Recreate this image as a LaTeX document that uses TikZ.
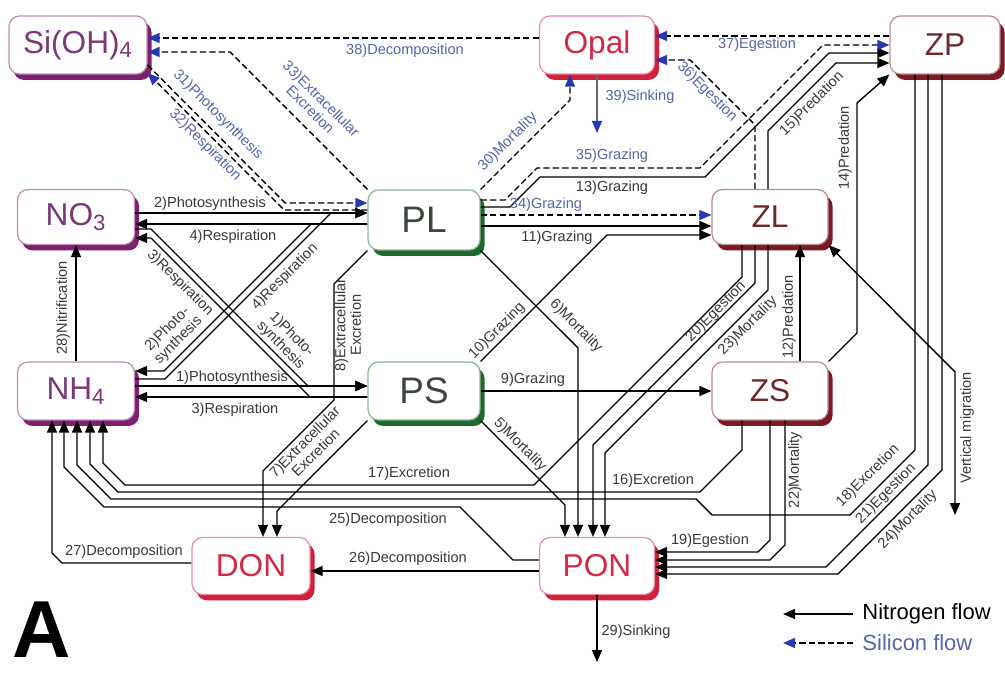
\documentclass[tikz,border=0pt]{standalone}
\usepackage{fontspec}
\setmainfont{Liberation Sans}
\usetikzlibrary{arrows.meta, shadows}
\definecolor{npurple}{HTML}{7A3A78}
\definecolor{spurple}{HTML}{7E1F70}
\definecolor{nred}{HTML}{D42A48}
\definecolor{sred}{HTML}{D0203C}
\definecolor{nbrown}{HTML}{6E2A2A}
\definecolor{sbrown}{HTML}{7A1A24}
\definecolor{ngrey}{HTML}{3C463C}
\definecolor{sgreen}{HTML}{1E6A2E}
\definecolor{siblue}{HTML}{2838B0}
\definecolor{silabel}{HTML}{5666AA}
\definecolor{nlabel}{HTML}{3A3A3A}
\tikzset{
  every picture/.style={line width=0.8pt},
  pool/.style 2 args={draw=#2!50, fill=white, text=#1, rounded corners=6pt, line width=0.7pt, inner sep=0pt,
    font=\fontsize{18}{18}\selectfont, general shadow={fill=#2, shadow xshift=2.6pt, shadow yshift=-3.4pt}},
  nflow/.style={draw=black, -{Triangle[length=2.4mm, width=2mm]}},
  siflow/.style={draw=black, dash pattern=on 3.6pt off 1.8pt, -{Triangle[length=2.4mm, width=2mm, color=siblue]}},
  lab/.style={font=\fontsize{8.3}{8.8}\selectfont, text=nlabel, inner sep=0.5pt, align=center},
  silab/.style={lab, text=silabel},
}

\begin{document}
\begin{tikzpicture}[x=0.02cm, y=-0.02cm,
  wide/.style={minimum width=2.34cm, minimum height=1.16cm},
  big/.style={font=\fontsize{21}{21}\selectfont},
  twoway/.style={draw=black, {Triangle[length=2.4mm, width=2mm]}-{Triangle[length=2.4mm, width=2mm]}},
  legend/.style={font=\fontsize{12.5}{13}\selectfont, anchor=west, inner sep=5pt}]
  \useasboundingbox (0,0) rectangle (1005,675);
  % pools
  \node[pool={npurple}{spurple}, minimum width=2.76cm, minimum height=1.16cm] (SiOH) at (78,45) {Si(OH)\textsubscript{4}};
  \node[pool={nred}{sred}, minimum width=2.3cm, minimum height=1.16cm] (Opal) at (597,45) {Opal};
  \node[pool={nbrown}{sbrown}, minimum width=2.2cm, minimum height=1.16cm] (ZP) at (945,45) {ZP};
  \node[pool={npurple}{spurple}, wide, minimum height=1.1cm] (NO3) at (76,217) {NO\textsubscript{3}};
  \node[pool={ngrey}{sgreen}, big, minimum width=2.24cm, minimum height=1.2cm] (PL) at (424,220) {PL};
  \node[pool={nbrown}{sbrown}, minimum width=2.32cm, minimum height=1.1cm] (ZL) at (770,217) {ZL};
  \node[pool={npurple}{spurple}, wide] (NH4) at (76,391) {NH\textsubscript{4}};
  \node[pool={ngrey}{sgreen}, big, minimum width=2.24cm, minimum height=1.16cm] (PS) at (424,391) {PS};
  \node[pool={nbrown}{sbrown}, minimum width=2.32cm, minimum height=1.16cm] (ZS) at (770,391) {ZS};
  \node[pool={nred}{sred}, minimum width=2.36cm, minimum height=1.14cm] (DON) at (251,566) {DON};
  \node[pool={nred}{sred}, minimum width=2.3cm, minimum height=1.14cm] (PON) at (597,566) {PON};

  % nutrient uptake and respiration
  \draw[nflow] (NH4.east |- 0,386) -- (PS.west |- 0,386);
  \draw[nflow] (PS.west |- 0,397) -- (NH4.east |- 0,397);
  \draw[nflow] (NO3.east |- 0,213) -- (PL.west |- 0,213);
  \draw[nflow] (PL.west |- 0,224) -- (NO3.east |- 0,224);
  \draw[nflow] (NO3.east |- 0,229) -- (151,229) -- (308,386) -- (PS.west |- 0,386);
  \draw[nflow] (PS.west |- 0,397) -- (310,397) -- (151,238) -- (NO3.east |- 0,238);
  \draw[nflow] (NH4.east |- 0,379) -- (165,379) -- (331,213) -- (PL.west |- 0,213);
  \draw[nflow] (PL.west |- 0,224) -- (311,224) -- (164,371) -- (NH4.east |- 0,371);
  \draw[nflow] (NH4.north) -- (NO3.south);
  % mortality and excretion of phytoplankton
  \draw[nflow] (PS.south east) -- (565,505) -- (PON.north -| 565,0);
  \draw[nflow] (PL.south east) -- (578,348) -- (PON.north -| 578,0);
  \draw[nflow] (PS.south west) -- (277,511) -- (DON.north -| 277,0);
  \draw[nflow] (PL.south west) -- (334,284) -- (334,400) -- (263,471) -- (DON.north -| 263,0);
  % grazing and predation
  \draw[nflow] (PS.east |- 0,391) -- (ZS.west |- 0,391);
  \draw[nflow] (PS.north east) -- (607,235) -- (ZL.west |- 0,235);
  \draw[nflow] (PL.east |- 0,226) -- (ZL.west |- 0,226);
  \draw[nflow] (ZS.north -| 800,0) -- (ZL.south -| 800,0);
  \draw[nflow] (PL.east |- 0,207) -- (510,207) -- (540,177) -- (705,177) -- (829,53) -- (ZP.west |- 0,53);
  \draw[nflow] (ZS.north east) -- (857,333) -- (857,103) -- (ZP.south west);
  \draw[nflow] (ZL.north -| 768,0) -- (768,131) -- (836,63) -- (ZP.west |- 0,63);
  % excretion to NH4
  \draw[nflow] (ZS.south -| 742,0) -- (742,450) -- (700,492) -- (118,492) -- (90,464) -- (NH4.south -| 90,0);
  \draw[nflow] (ZL.south -| 742,0) -- (742,277) -- (534,485) -- (125,485) -- (103,463) -- (NH4.south -| 103,0);
  \draw[nflow] (ZP.south -| 915,0) -- (915,450) -- (850,515) -- (712,515) -- (696,499) -- (111,499) -- (77,465) -- (NH4.south -| 77,0);
  \draw[nflow] (PON.west |- 0,560) -- (513,560) -- (460,507) -- (104,507) -- (64,467) -- (NH4.south -| 64,0);
  % egestion and mortality to PON
  \draw[nflow] (ZS.south -| 770,0) -- (770,540) -- (758,552) -- (PON.east |- 0,552);
  \draw[nflow] (ZS.south -| 785,0) -- (785,545) -- (770,560) -- (PON.east |- 0,560);
  \draw[nflow] (ZL.south -| 755,0) -- (755,283) -- (593,445) -- (PON.north -| 593,0);
  \draw[nflow] (ZL.south -| 768,0) -- (768,290) -- (605,453) -- (PON.north -| 605,0);
  \draw[nflow] (ZP.south -| 928,0) -- (928,465) -- (826,567) -- (PON.east |- 0,567);
  \draw[nflow] (ZP.south -| 942,0) -- (942,470) -- (838,574) -- (PON.east |- 0,574);
  % decomposition and sinking
  \draw[nflow] (DON.west |- 0,563) -- (62,563) -- (52,553) -- (NH4.south -| 52,0);
  \draw[nflow] (PON.west |- 0,571) -- (DON.east |- 0,571);
  \coordinate (ponsink) at (597,662);
  \draw[nflow] (PON.south) -- (ponsink);
  \coordinate (vmend) at (955,515);
  \draw[twoway] (ZL.south east) -- (955,372) -- (vmend);

  % silicon
  \draw[siflow] (SiOH.east |- 0,65) -- (285,203) -- (PL.west |- 0,203);
  \draw[siflow] (PL.west |- 0,210) -- (284,210) -- (SiOH.east |- 0,73);
  \draw[siflow] (PL.north west) -- (230,52) -- (SiOH.east |- 0,52);
  \draw[siflow] (PL.north east) -- (570,100) -- (Opal.south -| 570,0);
  \draw[siflow] (PL.east |- 0,215) -- (ZL.west |- 0,215);
  \draw[siflow] (PL.east |- 0,200) -- (505,200) -- (537,168) -- (700,168) -- (823,45) -- (ZP.west |- 0,45);
  \draw[siflow] (ZL.north -| 755,0) -- (755,125) -- (690,60) -- (Opal.east |- 0,60);
  \draw[siflow] (ZP.west |- 0,36) -- (Opal.east |- 0,36);
  \draw[siflow] (Opal.west |- 0,38) -- (SiOH.east |- 0,38);
  \coordinate (opalsink) at (597,133);
  \draw[draw=black!60, -{Triangle[length=2.4mm, width=2mm, color=siblue]}] (Opal.south) -- (opalsink);

  % flow labels
  \node[lab] (t1) at (232,378) {1)Photosynthesis};
  \node[lab] (t3) at (235,410) {3)Respiration};
  \node[lab] (t2) at (210,204) {2)Photosynthesis};
  \node[lab] (t4) at (233,237) {4)Respiration};
  \node[lab, rotate=-45] (t3b) at (180,283) {3)Respiration};
  \node[lab, rotate=45] (t4b) at (285,277) {4)Respiration};
  \node[lab, rotate=45] (t2b) at (173,335) {2)Photo-\\synthesis};
  \node[lab, rotate=-45] (t1b) at (286,340) {1)Photo-\\synthesis};
  \node[lab, rotate=90] (t28) at (63,308) {28)Nitrification};
  \node[lab, rotate=-45] (t5) at (520,445) {5)Mortality};
  \node[lab, rotate=-45] (t6) at (576,326) {6)Mortality};
  \node[lab, rotate=45] (t7) at (310,447) {7)Extracellular\\Excretion};
  \node[lab, rotate=90] (t8) at (348,325) {8)Extracellular\\Excretion};
  \node[lab] (t9) at (533,380) {9)Grazing};
  \node[lab, rotate=45] (t10) at (497,331) {10)Grazing};
  \node[lab] (t11) at (557,238) {11)Grazing};
  \node[lab, rotate=90] (t12) at (789,317) {12)Predation};
  \node[lab] (t13) at (612,188) {13)Grazing};
  \node[lab, rotate=90] (t14) at (845,148) {14)Predation};
  \node[lab, rotate=45] (t15) at (812,104) {15)Predation};
  \node[lab] (t16) at (653,481) {16)Excretion};
  \node[lab] (t17) at (409,474) {17)Excretion};
  \node[lab, rotate=45] (t18) at (868,476) {18)Excretion};
  \node[lab] (t19) at (710,541) {19)Egestion};
  \node[lab, rotate=45] (t20) at (716,312) {20)Egestion};
  \node[lab, rotate=45] (t21) at (886,494) {21)Egestion};
  \node[lab, rotate=90] (t22) at (795,470) {22)Mortality};
  \node[lab, rotate=45] (t23) at (748,326) {23)Mortality};
  \node[lab, rotate=45] (t24) at (908,520) {24)Mortality};
  \node[lab] (t25) at (388,520) {25)Decomposition};
  \node[lab] (t26) at (408,559) {26)Decomposition};
  \node[lab] (t27) at (124,552) {27)Decomposition};
  \node[lab] (t29) at (636,632) {29)Sinking};
  \node[lab, rotate=90] (tvm) at (967,428) {Vertical migration};
  \node[silab, rotate=45] (t30) at (508,142) {30)Mortality};
  \node[silab, rotate=-45] (t31) at (218,115) {31)Photosynthesis};
  \node[silab, rotate=-45] (t32) at (205,145) {32)Respiration};
  \node[silab, rotate=-45] (t33) at (316,104) {33)Extracellular\\Excretion};
  \node[silab] (t34) at (546,205) {34)Grazing};
  \node[silab] (t35) at (612,156) {35)Grazing};
  \node[silab, rotate=-45] (t36) at (707,92) {36)Egestion};
  \node[silab] (t37) at (757,45) {37)Egestion};
  \node[silab] (t38) at (405,51) {38)Decomposition};
  \node[silab] (t39) at (640,97) {39)Sinking};

  % legend
  \node[legend] (legN) at (853,614) {Nitrogen flow};
  \node[legend, text=silabel] (legS) at (853,643) {Silicon flow};
  \coordinate (legNtip) at (783,614);
  \coordinate (legStip) at (783,643);
  \draw[nflow] (legN.west) -- (legNtip);
  \draw[siflow] (legS.west) -- (legStip);
  \node[font=\fontsize{46}{46}\bfseries\selectfont] (panelA) at (42,630) {A};
\end{tikzpicture}
\end{document}
